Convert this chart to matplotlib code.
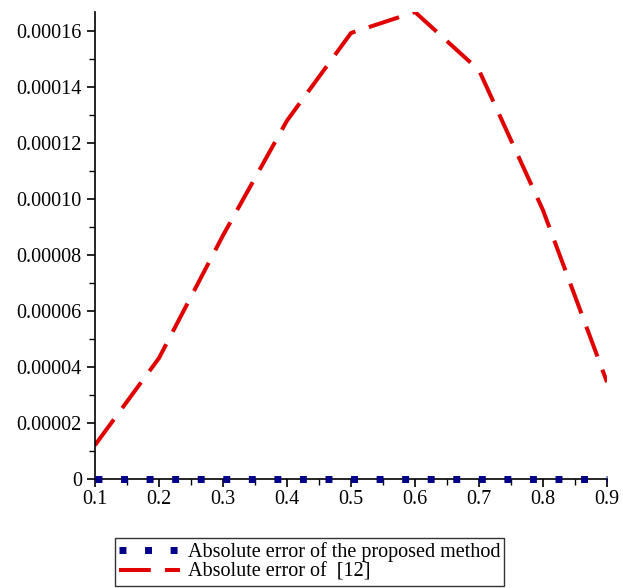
import matplotlib.pyplot as plt
from matplotlib.ticker import MultipleLocator, FuncFormatter

x = [0.1, 0.2, 0.3, 0.4, 0.5, 0.6, 0.7, 0.8, 0.9]
errProposed = [0, 0, 0, 0, 0, 0, 0, 0, 0]
errRef12 = [1.21e-5, 4.32e-5, 8.7e-5, 1.28e-4, 1.593e-4, 1.668e-4, 1.46e-4, 9.6e-5, 3.46e-5]

labels = ['Absolute error of the proposed method', 'Absolute error of  [12]']

plt.rcParams['font.family'] = ['Liberation Serif', 'DejaVu Serif']

fig = plt.figure(figsize=(6.23, 5.88), dpi=100)
ax = fig.add_axes([0.1525, 0.1854, 0.8218, 0.7942])

ax.plot(x, errProposed, color='#000088', linewidth=5.0, dashes=(1, 2.68),
        dash_capstyle='butt', label=labels[0], zorder=3, clip_on=False)
ax.plot(x, errRef12, color='#e00000', linewidth=2.9, dashes=(7.9, 3.5),
        dash_capstyle='butt', label=labels[1])

ax.set_xlim(0.1, 0.9)
ax.set_ylim(0, 0.0001668)

ax.xaxis.set_major_locator(MultipleLocator(0.1))
ax.xaxis.set_minor_locator(MultipleLocator(0.05))
ax.yaxis.set_major_locator(MultipleLocator(0.00002))
ax.yaxis.set_minor_locator(MultipleLocator(0.00001))

ax.xaxis.set_major_formatter(FuncFormatter(lambda v, p: f'{v:.1f}'))
ax.yaxis.set_major_formatter(FuncFormatter(lambda v, p: '0' if abs(v) < 1e-12 else f'{v:.5f}'))

ax.tick_params(axis='both', which='major', labelsize=14.5, length=6, width=1.2, color='black')
ax.tick_params(axis='both', which='minor', length=4, width=1.0, color='black')
ax.tick_params(axis='x', pad=2)

for side in ['top', 'right']:
    ax.spines[side].set_visible(False)
for side in ['left', 'bottom']:
    ax.spines[side].set_linewidth(1.2)

leg = fig.legend(loc='lower center', bbox_to_anchor=(0.497, 0.0), ncol=1,
                 fontsize=14.5, frameon=True, fancybox=False, edgecolor='black',
                 handlelength=3.0, handletextpad=0.4, borderpad=0.2, labelspacing=0.05,
                 borderaxespad=0.1)
leg.get_frame().set_linewidth(1.0)

fig.savefig('out.png', dpi=100)
